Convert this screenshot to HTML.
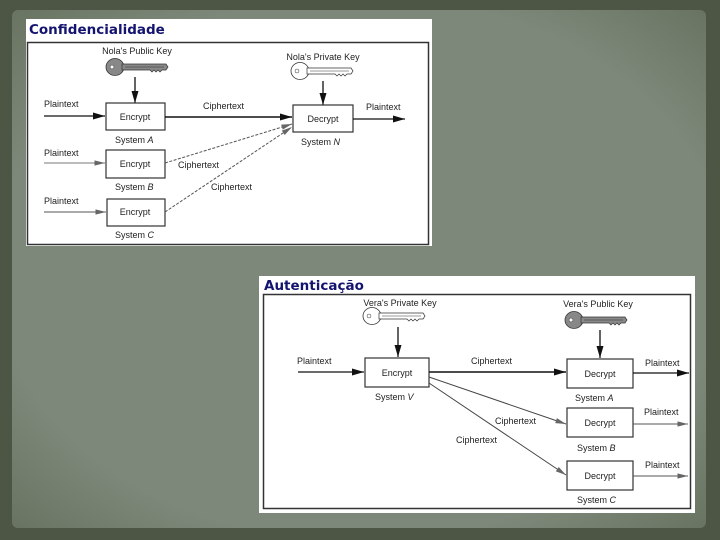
<!DOCTYPE html>
<html><head><meta charset="utf-8"><style>
html,body{margin:0;padding:0;width:720px;height:540px;overflow:hidden}
body{background:#4d5544}
svg{display:block}
text{font-family:"Liberation Sans",sans-serif;font-size:9px;fill:#222}
.t{font-family:"DejaVu Sans","Liberation Sans",sans-serif;font-weight:bold;font-size:13.5px;fill:#141470}
</style></head><body>
<svg width="720" height="540" viewBox="0 0 720 540" xmlns="http://www.w3.org/2000/svg">
<defs>
<marker id="ab" viewBox="0 0 12 8" refX="12" refY="4" markerWidth="13" markerHeight="8" orient="auto" markerUnits="userSpaceOnUse"><path d="M0,0.5L12,4L0,7.5z" fill="#111"/></marker>
<marker id="ag" viewBox="0 0 12 8" refX="12" refY="4" markerWidth="13" markerHeight="7" orient="auto" markerUnits="userSpaceOnUse"><path d="M0,1L12,4L0,7z" fill="#666"/></marker>
<radialGradient id="bg" cx="50%" cy="50%" r="70%"><stop offset="0.75" stop-color="#7e887a"/><stop offset="1" stop-color="#6a7462"/></radialGradient>
<g id="kg"><ellipse cx="9" cy="8" rx="9" ry="8.5" fill="#888" stroke="#333" stroke-width="0.8"/><circle cx="6" cy="8" r="2" fill="#fff" stroke="#333" stroke-width="0.5"/><path d="M16,5H60L62,8L60,11H56L54,13L52,11L50,13L48,11L46,13L44,11H16z" fill="#888" stroke="#333" stroke-width="0.7"/><line x1="19" y1="8" x2="58" y2="8" stroke="#333" stroke-width="0.6"/></g>
<g id="kw"><ellipse cx="9" cy="8" rx="9" ry="8.5" fill="#fff" stroke="#333" stroke-width="0.8"/><circle cx="6" cy="8" r="2" fill="#fff" stroke="#333" stroke-width="0.5"/><path d="M16,5H60L62,8L60,11H56L54,13L52,11L50,13L48,11L46,13L44,11H16z" fill="#fff" stroke="#333" stroke-width="0.7"/><line x1="19" y1="8" x2="58" y2="8" stroke="#333" stroke-width="0.6"/></g>
</defs>
<rect x="0" y="0" width="720" height="540" fill="#4d5544"/>
<rect x="12" y="10" width="694" height="518" rx="6" fill="url(#bg)"/>

<!-- top panel -->
<rect x="26" y="19" width="406" height="227" fill="#fff"/>
<text x="29" y="34" class="t">Confidencialidade</text>
<rect x="27.5" y="42.5" width="401" height="202" fill="none" stroke="#333" stroke-width="1.5"/>
<text x="137" y="54" text-anchor="middle">Nola's Public Key</text>
<use href="#kg" x="106" y="59"/>
<line x1="135" y1="77" x2="135" y2="103" stroke="#111" stroke-width="1.3" marker-end="url(#ab)"/>
<text x="323" y="60" text-anchor="middle">Nola's Private Key</text>
<use href="#kw" x="291" y="63"/>
<line x1="323" y1="81" x2="323" y2="105" stroke="#111" stroke-width="1.3" marker-end="url(#ab)"/>
<g fill="#fff" stroke="#333" stroke-width="1.2">
<rect x="106" y="103" width="59" height="27"/><rect x="106" y="150" width="59" height="28"/><rect x="107" y="199" width="58" height="27"/><rect x="293" y="105" width="60" height="27"/></g>
<text x="135" y="120" text-anchor="middle">Encrypt</text><text x="135" y="167" text-anchor="middle">Encrypt</text><text x="135" y="215" text-anchor="middle">Encrypt</text><text x="323" y="122" text-anchor="middle">Decrypt</text>
<text x="115" y="143">System <tspan font-style="italic">A</tspan></text>
<text x="115" y="190">System <tspan font-style="italic">B</tspan></text>
<text x="115" y="238">System <tspan font-style="italic">C</tspan></text>
<text x="301" y="145">System <tspan font-style="italic">N</tspan></text>
<text x="44" y="107">Plaintext</text><text x="44" y="156">Plaintext</text><text x="44" y="204">Plaintext</text>
<line x1="44" y1="116" x2="105" y2="116" stroke="#111" stroke-width="1.2" marker-end="url(#ab)"/>
<line x1="44" y1="163" x2="105" y2="163" stroke="#777" stroke-width="0.9" marker-end="url(#ag)"/>
<line x1="44" y1="212" x2="106" y2="212" stroke="#555" stroke-width="1" marker-end="url(#ag)"/>
<text x="203" y="109">Ciphertext</text>
<line x1="165" y1="117" x2="292" y2="117" stroke="#111" stroke-width="1.4" marker-end="url(#ab)"/>
<line x1="165" y1="163" x2="292" y2="124" stroke="#555" stroke-width="1" stroke-dasharray="3,1.5" marker-end="url(#ag)"/>
<line x1="165" y1="212" x2="292" y2="127" stroke="#555" stroke-width="1" stroke-dasharray="3,1.5" marker-end="url(#ag)"/>
<text x="178" y="168">Ciphertext</text><text x="211" y="190">Ciphertext</text>
<text x="366" y="110">Plaintext</text>
<line x1="353" y1="119" x2="405" y2="119" stroke="#111" stroke-width="1.2" marker-end="url(#ab)"/>

<!-- bottom panel -->
<rect x="259" y="276" width="436" height="237" fill="#fff"/>
<text x="264" y="290" class="t">Autenticação</text>
<rect x="263.5" y="294.5" width="427" height="214" fill="none" stroke="#333" stroke-width="1.5"/>
<text x="400" y="306" text-anchor="middle">Vera's Private Key</text>
<use href="#kw" x="363" y="308"/>
<line x1="398" y1="327" x2="398" y2="357" stroke="#111" stroke-width="1.3" marker-end="url(#ab)"/>
<text x="598" y="307" text-anchor="middle">Vera's Public Key</text>
<use href="#kg" x="565" y="312"/>
<line x1="600" y1="330" x2="600" y2="358" stroke="#111" stroke-width="1.3" marker-end="url(#ab)"/>
<g fill="#fff" stroke="#333" stroke-width="1.2">
<rect x="365" y="358" width="64" height="29"/><rect x="567" y="359" width="66" height="29"/><rect x="567" y="408" width="66" height="29"/><rect x="567" y="461" width="66" height="29"/></g>
<text x="397" y="376" text-anchor="middle">Encrypt</text>
<text x="600" y="377" text-anchor="middle">Decrypt</text><text x="600" y="426" text-anchor="middle">Decrypt</text><text x="600" y="479" text-anchor="middle">Decrypt</text>
<text x="375" y="400">System <tspan font-style="italic">V</tspan></text>
<text x="575" y="401">System <tspan font-style="italic">A</tspan></text>
<text x="577" y="451">System <tspan font-style="italic">B</tspan></text>
<text x="577" y="503">System <tspan font-style="italic">C</tspan></text>
<text x="297" y="364">Plaintext</text>
<line x1="298" y1="372" x2="364" y2="372" stroke="#111" stroke-width="1.2" marker-end="url(#ab)"/>
<text x="471" y="364">Ciphertext</text>
<line x1="429" y1="372" x2="566" y2="372" stroke="#111" stroke-width="1.6" marker-end="url(#ab)"/>
<line x1="429" y1="377" x2="566" y2="424" stroke="#444" stroke-width="1" marker-end="url(#ag)"/>
<line x1="429" y1="383" x2="566" y2="475" stroke="#444" stroke-width="1" marker-end="url(#ag)"/>
<text x="495" y="424">Ciphertext</text><text x="456" y="443">Ciphertext</text>
<text x="645" y="366">Plaintext</text><text x="644" y="415">Plaintext</text><text x="645" y="468">Plaintext</text>
<line x1="633" y1="373" x2="689" y2="373" stroke="#111" stroke-width="1.2" marker-end="url(#ab)"/>
<line x1="633" y1="424" x2="688" y2="424" stroke="#555" stroke-width="1" marker-end="url(#ag)"/>
<line x1="633" y1="476" x2="688" y2="476" stroke="#555" stroke-width="1" marker-end="url(#ag)"/>
</svg>
</body></html>
